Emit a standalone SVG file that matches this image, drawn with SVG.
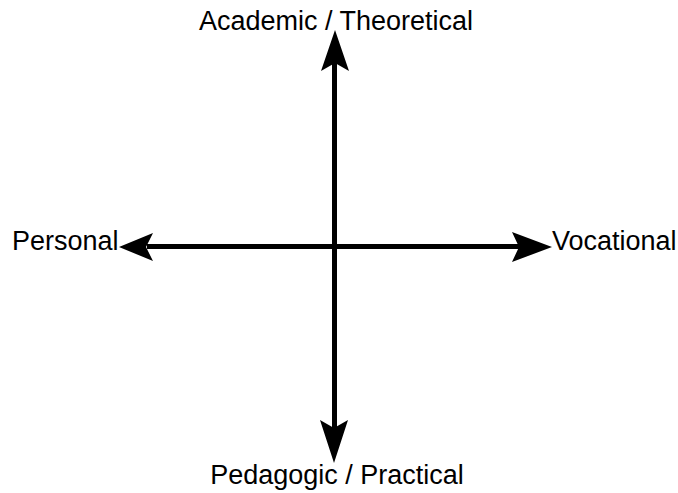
<svg xmlns="http://www.w3.org/2000/svg" width="678" height="493" viewBox="0 0 678 493">
<style>
text{font-family:"Liberation Sans",Arial,sans-serif;font-size:27px;fill:#000;}
.ax{stroke:#000;stroke-width:5;fill:none;}
.hd{fill:#000;}
</style>
<rect width="678" height="493" fill="#fff"/>
<g id="connectors">
<line class="ax" x1="334.5" y1="60" x2="334.5" y2="432"/>
<line class="ax" x1="147" y1="246.5" x2="522" y2="246.5"/>
<path class="hd" d="M335,30 L349,71 L335,63 L321,71 Z"/>
<path class="hd" d="M334,463 L348,420 L334,428 L320,420 Z"/>
<path class="hd" d="M119,247 L153,233 L146,247 L153,261 Z"/>
<path class="hd" d="M552,247 L512,262 L519,247 L512,232 Z"/>
</g>
<g id="top"><text x="336" y="30" text-anchor="middle">Academic / Theoretical</text></g>
<g id="bottom"><text x="337" y="484" text-anchor="middle">Pedagogic / Practical</text></g>
<g id="left"><text x="12" y="250">Personal</text></g>
<g id="right"><text x="552" y="250">Vocational</text></g>
</svg>
